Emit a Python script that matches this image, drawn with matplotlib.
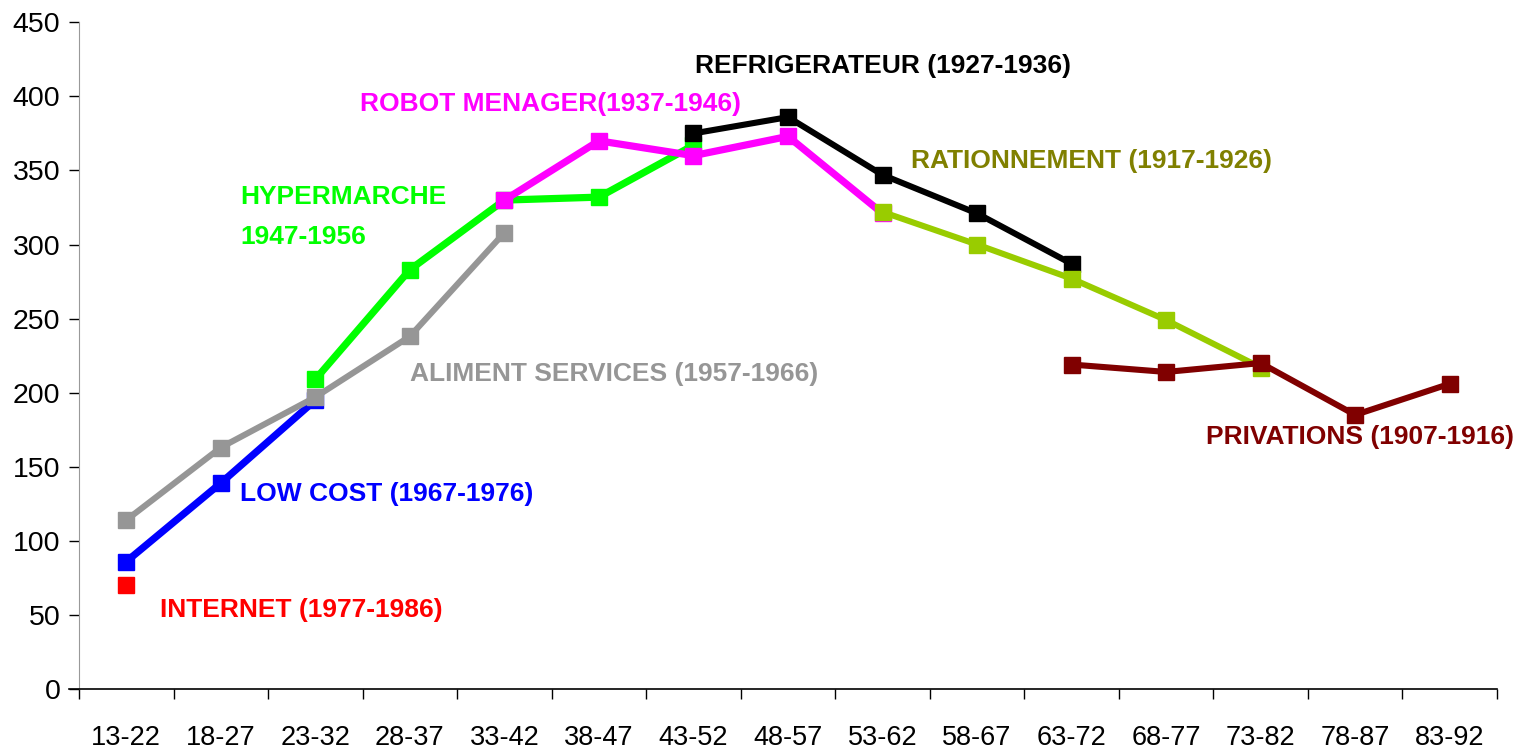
import numpy as np
import matplotlib
matplotlib.use("Agg")
import matplotlib.pyplot as plt

plt.rcParams['font.family'] = ['Liberation Sans', 'DejaVu Sans']

nan = np.nan
categories = ['13-22', '18-27', '23-32', '28-37', '33-42', '38-47', '43-52', '48-57',
              '53-62', '58-67', '63-72', '68-77', '73-82', '78-87', '83-92']

hypermarche = [nan, nan, 209, 283, 330, 332, 367, nan, nan, nan, nan, nan, nan, nan, nan]
low_cost = [86, 139, 195, nan, nan, nan, nan, nan, nan, nan, nan, nan, nan, nan, nan]
aliment = [114, 163, 197, 238, 308, nan, nan, nan, nan, nan, nan, nan, nan, nan, nan]
robot = [nan, nan, nan, nan, 330, 370, 360, 373, 321, nan, nan, nan, nan, nan, nan]
refrigerateur = [nan, nan, nan, nan, nan, nan, 375, 386, 347, 321, 287, nan, nan, nan, nan]
rationnement = [nan, nan, nan, nan, nan, nan, nan, nan, 322, 300, 277, 249, 217, nan, nan]
privations = [nan, nan, nan, nan, nan, nan, nan, nan, nan, nan, 219, 214, 220, 185, 206]
internet = [70, nan, nan, nan, nan, nan, nan, nan, nan, nan, nan, nan, nan, nan, nan]

W, H = 1520, 752
fig = plt.figure(figsize=(W / 100, H / 100), dpi=100)
ax = fig.add_axes([79 / W, 1 - 689 / H, (1497 - 79) / W, (689 - 22.3) / H])

x = np.arange(len(categories))
series = [
    (hypermarche, '#00FF00', 5.2),
    (low_cost, '#0000FF', 5.2),
    (aliment, '#969696', 4.4),
    (robot, '#FF00FF', 5.2),
    (refrigerateur, '#000000', 4.4),
    (rationnement, '#99CC00', 4.4),
    (privations, '#800000', 4.4),
    (internet, '#FF0000', 4.4),
]
for vals, col, lw in series:
    ax.plot(x, vals, color=col, lw=lw, marker='s', ms=11.5, mec=col, mfc=col,
            solid_joinstyle='miter')

ax.set_xlim(-0.5, len(categories) - 0.5)
ax.set_ylim(0, 450)
ax.set_yticks(np.arange(0, 451, 50))
ax.set_xticks(x)
ax.set_xticklabels(categories)
ax.set_xticks(np.arange(-0.5, len(categories), 1), minor=True)
ax.tick_params(axis='x', which='major', length=0, pad=26, labelsize=19.5)
ax.tick_params(axis='x', which='minor', length=7.5, width=1, direction='out')
ax.tick_params(axis='y', length=7.5, width=1, pad=6, labelsize=20.5)

for s in ['top', 'right']:
    ax.spines[s].set_visible(False)
ax.spines['left'].set_color('#999999')
ax.spines['bottom'].set_linewidth(1.2)
ax.spines['bottom'].set_bounds(-0.5 - 10 / 94.5, len(categories) - 0.5)

labels = [
    (240, 197, 'HYPERMARCHE', '#00FF00', 'left'),
    (240, 237, '1947-1956', '#00FF00', 'left'),
    (360, 104, 'ROBOT MENAGER(1937-1946)', '#FF00FF', 'left'),
    (695, 66, 'REFRIGERATEUR (1927-1936)', '#000000', 'left'),
    (911, 161, 'RATIONNEMENT (1917-1926)', '#808000', 'left'),
    (410, 374, 'ALIMENT SERVICES (1957-1966)', '#969696', 'left'),
    (240, 494, 'LOW COST (1967-1976)', '#0000FF', 'left'),
    (160, 610, 'INTERNET (1977-1986)', '#FF0000', 'left'),
    (1514, 437, 'PRIVATIONS (1907-1916)', '#800000', 'right'),
]
for px, py, txt, col, ha in labels:
    fig.text(px / W, 1 - py / H, txt, color=col, fontsize=19, fontweight='bold',
             ha=ha, va='center')

fig.savefig('out.png', dpi=100)
